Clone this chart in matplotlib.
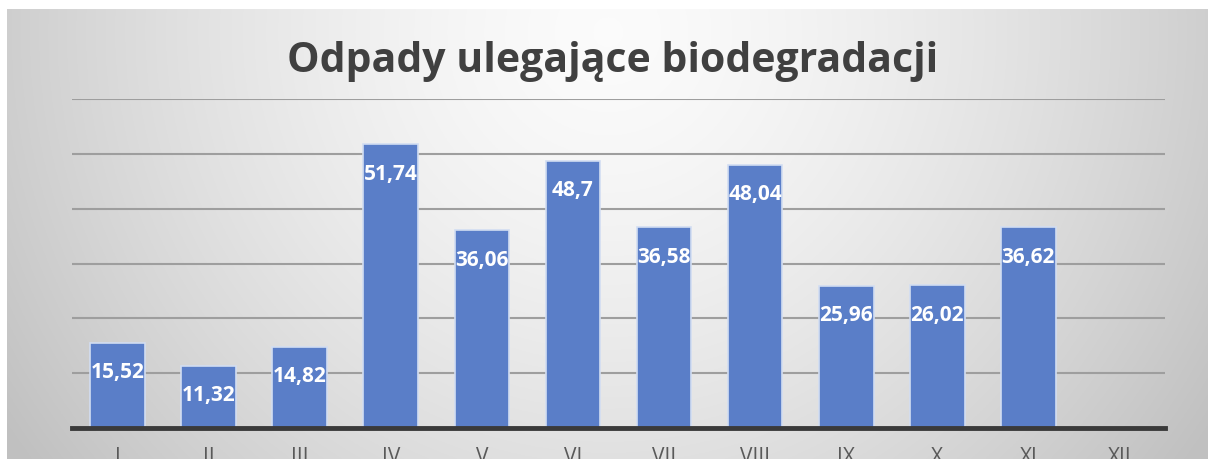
import numpy as np
import matplotlib
matplotlib.use("Agg")
import matplotlib.pyplot as plt

months = ["I", "II", "III", "IV", "V", "VI", "VII", "VIII", "IX", "X", "XI", "XII"]
values = [15.52, 11.32, 14.82, 51.74, 36.06, 48.7, 36.58, 48.04, 25.96, 26.02, 36.62, None]
labels = ["15,52", "11,32", "14,82", "51,74", "36,06", "48,7", "36,58", "48,04", "25,96", "26,02", "36,62", ""]
title = "Odpady ulegające biodegradacji"

W, H = 1208, 459
fig = plt.figure(figsize=(W / 100, H / 100), dpi=100)
fig.patch.set_facecolor("white")

# background gradient
bg = fig.add_axes([7 / W, 0, 1 - 7 / W, (H - 9) / H])
bg.set_axis_off()
ny, nx = 300, 800
yy, xx = np.mgrid[0:ny, 0:nx]
cx, cy = nx * 0.5, ny * 0.05
r = np.sqrt(((xx - cx) / (nx * 0.6)) ** 2 + ((yy - cy) / (ny * 1.6)) ** 2)
r = np.clip(r, 0, 1)
val = 0.985 - 0.23 * r ** 1.5
img = np.dstack([val, val, val])
bg.imshow(img, aspect="auto", extent=[0, 1, 0, 1], origin="upper")
bg.set_xlim(0, 1)
bg.set_ylim(0, 1)

ax = fig.add_axes([72 / W, (H - 428) / H, 1093 / W, (428 - 99) / H])
ax.patch.set_alpha(0)
x = np.arange(len(months))
vals = [v if v is not None else 0 for v in values]
bars = ax.bar(x, vals, width=0.6, color="#5A7EC8", edgecolor="#D2DDF2", linewidth=1.2, zorder=3)
ax.set_xlim(-0.5, len(months) - 0.5)
ax.set_ylim(0, 60)
ax.set_yticks(np.arange(10, 61, 10))
ax.yaxis.grid(True, color="#9e9e9e", linewidth=1.5, zorder=1)
ax.tick_params(axis="y", left=False, labelleft=False)
for s in ["top", "right", "left"]:
    ax.spines[s].set_visible(False)
ax.spines["bottom"].set_color("#3a3a3a")
ax.spines["bottom"].set_linewidth(3.5)
ax.spines["bottom"].set_zorder(4)
ax.set_xticks(x)
ax.set_xticklabels(months, fontsize=15, color="#595959", family="Open Sans")
ax.tick_params(axis="x", length=0, pad=14)

for xi, v, lab in zip(x, values, labels):
    if v is None:
        continue
    ax.annotate(lab, (xi, v), xytext=(0, -30), textcoords="offset pixels",
                ha="center", va="center", color="white", fontsize=15,
                fontweight="bold", family="Open Sans", zorder=5)

fig.text(613 / W, 1 - 62 / H, title, ha="center", va="center", fontsize=29.5,
         fontweight="bold", color="#404040", family="Open Sans")

fig.savefig("out.png", dpi=100)
